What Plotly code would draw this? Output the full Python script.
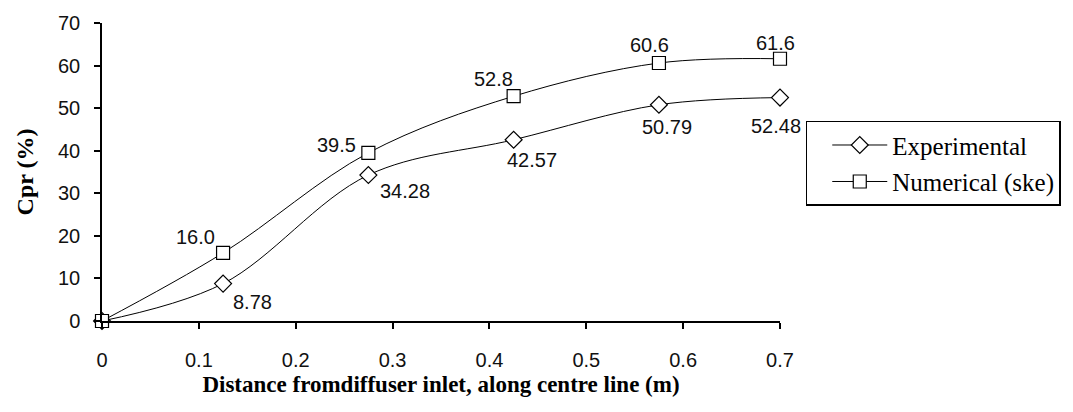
import plotly.graph_objects as go

# Distance from diffuser inlet along the centre line (m)
distance = [0, 0.125, 0.275, 0.425, 0.575, 0.7]

# Pressure recovery coefficient Cpr (%)
cpr_experimental = [0, 8.78, 34.28, 42.57, 50.79, 52.48]
cpr_numerical = [0, 16.0, 39.5, 52.8, 60.6, 61.6]

x_ticks = [0, 0.1, 0.2, 0.3, 0.4, 0.5, 0.6, 0.7]
y_ticks = [0, 10, 20, 30, 40, 50, 60, 70]

# label offsets (px) for the value annotations
num_shift = [None, (-28, 16), (-32, 8), (-20, 17), (-9, 18), (-5, 16)]
exp_shift = [None, (29, -18), (37, -16), (18, -20), (8, -22), (-4, -28)]

SANS = "Liberation Sans"
SERIF = "Liberation Serif"

fig = go.Figure()

fig.add_trace(go.Scatter(
    x=distance, y=cpr_experimental, name="Experimental",
    legendgroup="exp", cliponaxis=False,
    mode="lines+markers",
    line=dict(color="black", width=1, shape="spline", smoothing=1),
    marker=dict(symbol="diamond", size=13, color="white",
                line=dict(color="black", width=1.2)),
))
fig.add_trace(go.Scatter(
    x=distance, y=cpr_numerical, name="Numerical (ske)",
    legendgroup="num", cliponaxis=False,
    mode="lines+markers",
    line=dict(color="black", width=1, shape="spline", smoothing=1),
    marker=dict(symbol="square", size=13, color="white",
                line=dict(color="black", width=1.2)),
))

for xs, ys, shifts, fmt in [
    (distance, cpr_numerical, num_shift, "{:.1f}"),
    (distance, cpr_experimental, exp_shift, "{:.2f}"),
]:
    for xv, yv, sh in zip(xs, ys, shifts):
        if sh is None:
            continue
        fig.add_annotation(
            x=xv, y=yv, text=fmt.format(yv), showarrow=False,
            xshift=sh[0], yshift=sh[1],
            font=dict(family=SANS, size=20, color="#111"),
        )

fig.update_layout(
    width=1073, height=412,
    margin=dict(l=102, r=293, t=16, b=91),
    plot_bgcolor="white", paper_bgcolor="white",
    showlegend=True,
    legend=dict(
        x=1.038, y=0.672, xanchor="left", yanchor="top",
        bordercolor="black", borderwidth=1.5, bgcolor="white",
        font=dict(family=SERIF, size=25, color="black"),
        itemwidth=55, indentation=20, tracegroupgap=1,
    ),
)

fig.update_xaxes(
    range=[0, 0.7], tickvals=x_ticks, ticktext=[f"{v:g}" for v in x_ticks],
    showgrid=False, zeroline=False,
    showline=True, linecolor="black", linewidth=1.5,
    ticks="outside", ticklen=6, tickwidth=1.5, tickcolor="black",
    ticklabelstandoff=14,
    tickfont=dict(family=SANS, size=20, color="#111"),
    title=dict(text="<b>Distance fromdiffuser inlet, along centre line (m)</b>",
               font=dict(family=SERIF, size=23, color="black"), standoff=6),
)
fig.update_yaxes(
    range=[0, 70], tickvals=y_ticks,
    showgrid=False, zeroline=False,
    showline=True, linecolor="black", linewidth=1.5,
    ticks="outside", ticklen=6, tickwidth=1.5, tickcolor="black",
    ticklabelstandoff=10,
    tickfont=dict(family=SANS, size=20, color="#111"),
    title=dict(text="<b>Cpr (%)</b>",
               font=dict(family=SERIF, size=24, color="black"), standoff=18),
)

fig.write_html("out.html")
